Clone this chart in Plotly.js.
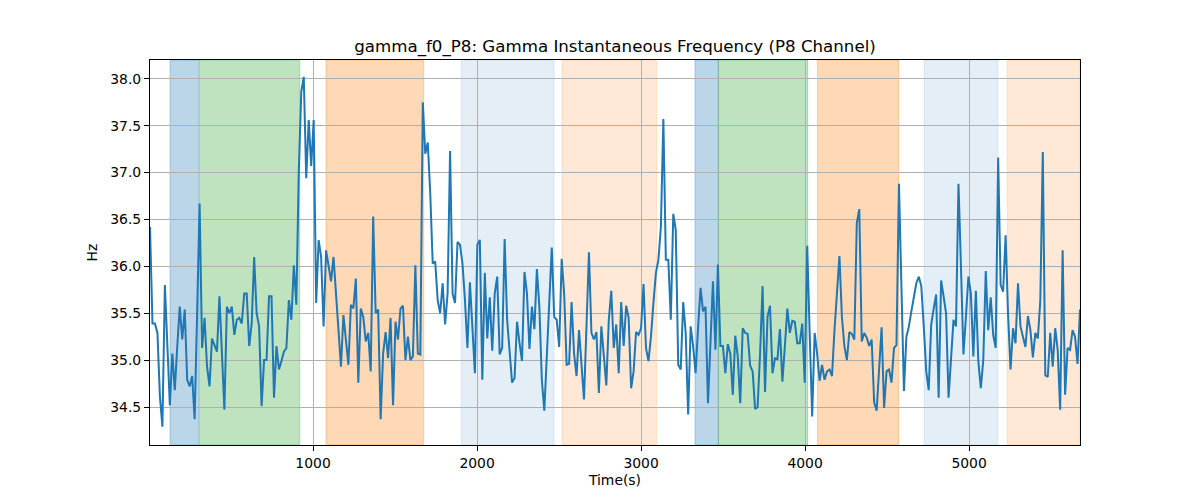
<!DOCTYPE html>
<html>
<head>
<meta charset="utf-8">
<script src="https://cdn.plot.ly/plotly-3.0.1.min.js"></script>
<style>
  body { margin: 0; background: #ffffff; }
  #chart { width: 1200px; height: 500px; }
</style>
</head>
<body>
<div id="chart"></div>
<script>
// thời gian lấy mẫu: bắt đầu và bước (giây)
var tStart = 6;
var tStep = 15.12;

// tần số tức thời gamma (Hz)
var freqHz = [
    36.42, 35.39, 35.39, 35.29, 34.61, 34.29, 35.80, 35.18, 34.52, 35.07, 34.68, 35.15, 35.57, 35.22, 35.54, 34.79,
    34.72, 34.83, 34.37, 35.50, 36.67, 35.13, 35.45, 34.93, 34.72, 35.23, 35.15, 35.09, 35.68, 35.15, 34.47, 35.57,
    35.50, 35.57, 35.27, 35.43, 35.45, 35.39, 35.71, 35.71, 35.15, 35.39, 36.10, 35.50, 35.36, 34.51, 35.00,
    // 268 -> 382 px
    35.00, 35.68, 35.68, 34.60, 35.15, 34.90, 34.99, 35.09, 35.13, 35.64, 35.43, 36.01, 35.59, 37.02, 37.86, 38.02,
    36.94, 37.56, 37.07, 37.56, 35.61, 36.28, 36.10, 35.36, 36.17, 36.00, 35.84, 36.10, 35.71, 35.29, 34.93, 35.48,
    35.22, 34.95, 35.59, 35.55, 35.87, 34.76, 35.55, 35.46, 35.20, 35.29, 34.88, 36.53, 35.50, 35.54, 34.37,
    // 385 -> 498 px
    35.07, 35.30, 35.02, 35.45, 34.52, 35.41, 35.22, 35.55, 35.58, 35.00, 35.25, 35.00, 35.04, 36.01, 35.07, 35.06,
    37.75, 37.20, 37.32, 36.78, 36.03, 36.05, 35.64, 35.50, 35.82, 35.38, 35.71, 37.23, 35.71, 35.61, 36.26, 36.23,
    36.03, 35.64, 35.13, 35.83, 35.36, 34.86, 36.23, 36.28, 34.79, 35.93, 35.23, 35.67, 35.10, 35.71, 35.89,
    // 501 -> 612 px
    35.06, 35.13, 36.29, 35.43, 35.11, 34.76, 34.81, 35.41, 35.18, 34.99, 35.94, 35.71, 35.12, 35.57, 35.33, 35.97,
    35.57, 34.79, 34.46, 35.04, 35.61, 36.20, 35.46, 35.43, 35.14, 36.08, 35.71, 34.95, 34.96, 35.62, 35.07, 34.83,
    35.32, 34.90, 34.58, 35.36, 36.15, 35.29, 35.22, 35.30, 34.65, 35.36, 35.00, 34.73, 35.43, 35.74,
    // 615 -> 728 px
    35.13, 35.38, 34.86, 35.62, 35.15, 35.58, 35.45, 34.70, 34.88, 35.30, 35.27, 35.34, 35.81, 35.13, 34.99, 35.25,
    35.61, 35.93, 36.07, 36.42, 37.57, 36.07, 36.07, 35.43, 36.56, 36.39, 34.95, 34.90, 35.62, 35.29, 34.42, 35.36,
    35.15, 34.86, 35.35, 35.77, 35.52, 35.57, 34.54, 35.25, 35.84, 35.11, 36.02, 35.15, 35.15, 34.86, 35.17,
    // 731 -> 845 px
    35.07, 34.63, 35.26, 35.04, 34.54, 35.34, 35.29, 35.28, 34.94, 34.88, 34.48, 34.50, 35.07, 35.79, 34.66, 35.46,
    35.58, 34.86, 35.02, 35.01, 35.33, 34.77, 35.15, 35.55, 35.29, 35.42, 35.41, 35.18, 35.18, 35.39, 34.76, 36.22,
    35.29, 34.40, 35.29, 35.07, 34.78, 34.95, 34.79, 34.88, 34.90, 34.83, 35.32, 35.71, 36.11, 35.46, 35.15,
    // 847 -> 959 px
    35.00, 35.30, 35.28, 35.22, 36.46, 36.61, 35.20, 35.29, 35.24, 35.15, 35.22, 34.55, 34.46, 34.90, 35.35, 34.49,
    34.88, 34.90, 34.76, 35.13, 35.16, 36.88, 35.78, 34.67, 35.25, 35.36, 35.52, 35.68, 35.82, 35.89, 35.79, 35.36,
    34.88, 34.68, 35.38, 35.55, 35.70, 34.60, 35.85, 35.68, 35.50, 34.60, 35.00, 35.43, 35.36, 36.88,
    // 961 -> 1080 px
    36.00, 35.06, 35.46, 35.89, 35.71, 35.04, 35.74, 34.99, 34.70, 35.00, 35.95, 35.32, 35.67, 35.27, 35.13, 37.16,
    35.80, 35.73, 36.33, 35.48, 34.90, 35.34, 35.18, 35.82, 35.36, 35.26, 35.14, 35.47, 35.32, 35.03, 35.29, 35.23,
    35.64, 37.22, 34.84, 34.82, 35.29, 34.93, 35.34, 35.11, 34.47, 36.17, 34.63, 35.13, 35.11, 35.32, 35.25, 34.96,
    35.54
];

var timeSec = freqHz.map(function(v, i) { return tStart + i * tStep; });
var tEnd = timeSec[timeSec.length - 1];

// các đoạn tô nền (giây)
var bandStart = [128, 308, 1079, 1904, 2518, 3329, 3471, 4075, 4726, 5232];
var bandEnd   = [302, 919, 1675, 2470, 3095, 3471, 4016, 4571, 5175, tEnd];
var bandColor = [
    "rgba(31,119,180,0.3)", "rgba(44,160,44,0.3)", "rgba(255,127,14,0.3)",
    "rgba(31,119,180,0.12)", "rgba(255,127,14,0.17)",
    "rgba(31,119,180,0.3)", "rgba(44,160,44,0.3)", "rgba(255,127,14,0.3)",
    "rgba(31,119,180,0.12)", "rgba(255,127,14,0.17)"
];

var shapes = bandStart.map(function(s, i) {
    return {
        type: "rect", xref: "x", yref: "paper",
        x0: s, x1: bandEnd[i], y0: 0, y1: 1,
        fillcolor: bandColor[i],
        line: { color: bandColor[i], width: 1 },
        layer: "below"
    };
});

var trace = {
    x: timeSec,
    y: freqHz,
    type: "scatter",
    mode: "lines",
    line: { color: "#1f77b4", width: 2 },
    hoverinfo: "x+y"
};

var layout = {
    width: 1200,
    height: 500,
    margin: { t: 60, r: 120, l: 150, b: 55 },
    paper_bgcolor: "#ffffff",
    plot_bgcolor: "#ffffff",
    font: { family: "DejaVu Sans", color: "#000000", size: 13.9 },
    showlegend: false,
    title: {
        text: "gamma_f0_P8: Gamma Instantaneous Frequency (P8 Channel)",
        font: { size: 16.67, family: "DejaVu Sans" },
        x: 0.5, xref: "paper", xanchor: "center",
        y: 0.908, yref: "container", yanchor: "middle"
    },
    xaxis: {
        range: [tStart, tEnd],
        tick0: 0, dtick: 1000,
        ticks: "outside", ticklen: 5, tickcolor: "#000000",
        showgrid: true, gridcolor: "#b0b0b0", gridwidth: 1,
        zeroline: false,
        showline: true, linecolor: "#000000", linewidth: 1, mirror: true,
        title: { text: "Time(s)", font: { size: 13.9 }, standoff: 5 }
    },
    yaxis: {
        range: [34.095, 38.2],
        tick0: 34.5, dtick: 0.5, tickformat: ".1f",
        ticks: "outside", ticklen: 5, tickcolor: "#000000",
        showgrid: true, gridcolor: "#b0b0b0", gridwidth: 1,
        zeroline: false,
        showline: true, linecolor: "#000000", linewidth: 1, mirror: true,
        title: { text: "Hz", font: { size: 13.9 }, standoff: 9 }
    },
    shapes: shapes
};

Plotly.newPlot("chart", [trace], layout, { displayModeBar: false });
</script>
</body>
</html>
